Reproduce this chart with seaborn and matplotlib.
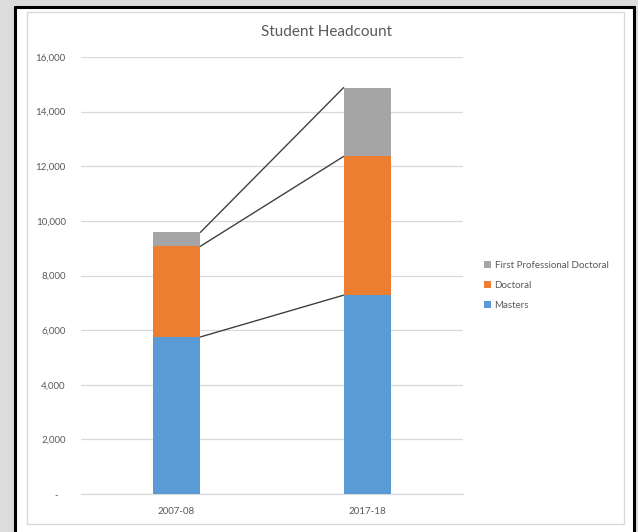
import matplotlib
matplotlib.use("Agg")
import matplotlib.pyplot as plt
import matplotlib.patches as mpatches
from matplotlib.lines import Line2D
from matplotlib.ticker import FuncFormatter
import seaborn as sns
import pandas as pd

years = ["2007-08", "2017-18"]
masters = [5750, 7280]
doctoral = [3320, 5080]
first_prof = [510, 2520]
series_names = ["First Professional Doctoral", "Doctoral", "Masters"]
colors = {"Masters": "#5B9BD5", "Doctoral": "#ED7D31", "First Professional Doctoral": "#A5A5A5"}
yticks = [0, 2000, 4000, 6000, 8000, 10000, 12000, 14000, 16000]

sns.set_theme(style="white")
plt.rcParams["font.family"] = ["Lato", "DejaVu Sans"]

W, H = 638, 532
fig = plt.figure(figsize=(W / 100, H / 100), dpi=100)
fig.patch.set_facecolor("#DCDCDC")

def fx(px):
    return px / W

def fy(py):
    return 1 - py / H

# white panel with black frame (open at bottom)
fig.patches.append(mpatches.Rectangle((fx(15), 0), fx(634) - fx(15), fy(7) - 0,
                                      transform=fig.transFigure, facecolor="white",
                                      edgecolor="none", zorder=-2))
for xs, ys in [([15, 15], [7, 540]), ([15, 634], [7, 7]), ([634, 634], [7, 540])]:
    fig.lines.append(Line2D([fx(x) for x in xs], [fy(y) for y in ys], transform=fig.transFigure,
                            color="black", linewidth=2.2, zorder=-1))
# inner chart-area border
fig.patches.append(mpatches.Rectangle((fx(27), fy(524)), fx(624) - fx(27), fy(12) - fy(524),
                                      transform=fig.transFigure, facecolor="none",
                                      edgecolor="#D9D9D9", linewidth=1.0, zorder=-1))

ax = fig.add_axes([fx(81), fy(494), fx(463) - fx(81), fy(57) - fy(494)])
ax.set_zorder(2)
ax.set_facecolor("none")

df = pd.DataFrame({"Year": years, "Masters": masters, "Doctoral": doctoral,
                   "First Professional Doctoral": first_prof})
df["cum_m"] = df["Masters"]
df["cum_d"] = df["Masters"] + df["Doctoral"]
df["cum_f"] = df["cum_d"] + df["First Professional Doctoral"]

bw = 0.25
sns.barplot(data=df, x="Year", y="cum_f", color=colors["First Professional Doctoral"],
            width=bw, saturation=1, ax=ax, zorder=3, linewidth=0)
sns.barplot(data=df, x="Year", y="cum_d", color=colors["Doctoral"],
            width=bw, saturation=1, ax=ax, zorder=3, linewidth=0)
sns.barplot(data=df, x="Year", y="cum_m", color=colors["Masters"],
            width=bw, saturation=1, ax=ax, zorder=3, linewidth=0)

# connector lines between stacks
for col in ["cum_m", "cum_d", "cum_f"]:
    ax.plot([0 + bw / 2, 1 - bw / 2], [df[col].iloc[0], df[col].iloc[1]],
            color="#404040", linewidth=1.0, zorder=4)

ax.set_xlim(-0.5, 1.5)
ax.set_ylim(0, 16000)
ax.set_yticks(yticks)
ax.yaxis.set_major_formatter(FuncFormatter(lambda v, p: "-   " if v == 0 else f"{v:,.0f}"))
ax.grid(axis="y", color="#D9D9D9", linewidth=0.9, zorder=0)
ax.set_axisbelow(True)
for s in ["top", "right", "left"]:
    ax.spines[s].set_visible(False)
ax.spines["bottom"].set_color("#D9D9D9")
ax.spines["bottom"].set_linewidth(0.9)
ax.tick_params(axis="both", length=0, labelsize=7, labelcolor="#595959")
ax.tick_params(axis="y", pad=11)
ax.tick_params(axis="x", pad=9)
ax.set_xlabel("")
ax.set_ylabel("")

fig.text(fx(327), fy(32), "Student Headcount", ha="center", va="center",
         fontsize=11, color="#595959")

handles = [mpatches.Patch(facecolor=colors[n], edgecolor="none") for n in series_names]
leg = fig.legend(handles, series_names, loc="upper left",
                 bbox_to_anchor=(fx(479), fy(256)), frameon=False, fontsize=7,
                 labelcolor="#595959", handlelength=0.7, handleheight=0.7,
                 handletextpad=0.4, labelspacing=1.15, borderpad=0)

fig.savefig("out.png", dpi=100, facecolor=fig.get_facecolor())
